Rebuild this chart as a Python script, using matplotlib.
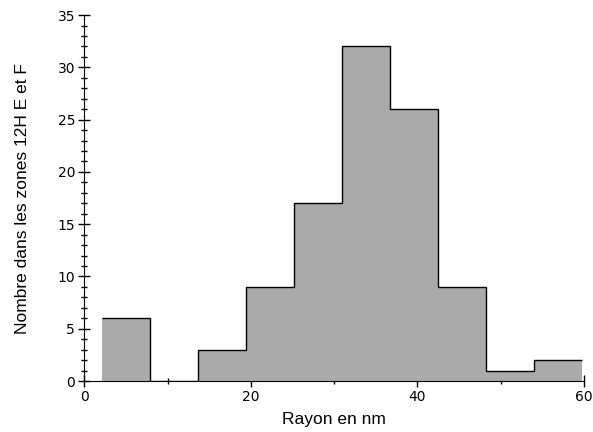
import numpy as np
import matplotlib
matplotlib.use("Agg")
import matplotlib.pyplot as plt

# histogram of radii (nm), 10 bins
edges = np.linspace(2.15, 59.75, 11)
counts = [6, 0, 3, 9, 17, 32, 26, 9, 1, 2]

fig = plt.figure(figsize=(5.93, 4.32), dpi=100)
ax = fig.add_axes([0.142, 0.118, 0.843, 0.847])

ax.stairs(counts, edges, fill=True, color='#aaaaaa', linewidth=0, zorder=2.5)
ax.stairs(counts, edges, baseline=None, color='black', linewidth=1, zorder=2.6)

ax.set_xlim(0, 60)
ax.set_ylim(0, 35)
ax.set_xticks([0, 20, 40, 60])
ax.set_xticks([10, 30, 50], minor=True)
ax.set_yticks(range(0, 36, 5))
ax.set_yticks(range(0, 36, 1), minor=True)

for s in ['top', 'right']:
    ax.spines[s].set_visible(False)

ax.tick_params(which='major', direction='inout', length=9, width=1, labelsize=10, pad=2)
ax.tick_params(axis='y', which='minor', direction='inout', length=5, width=1)
ax.tick_params(axis='x', which='minor', direction='inout', length=5, width=1)

ax.set_xlabel('Rayon en nm', family='Liberation Sans', fontsize=12.5, labelpad=6)
ax.set_ylabel('Nombre dans les zones 12H E et F', family='Liberation Sans', fontsize=12.5, labelpad=20)

fig.savefig('out.png', dpi=100)
